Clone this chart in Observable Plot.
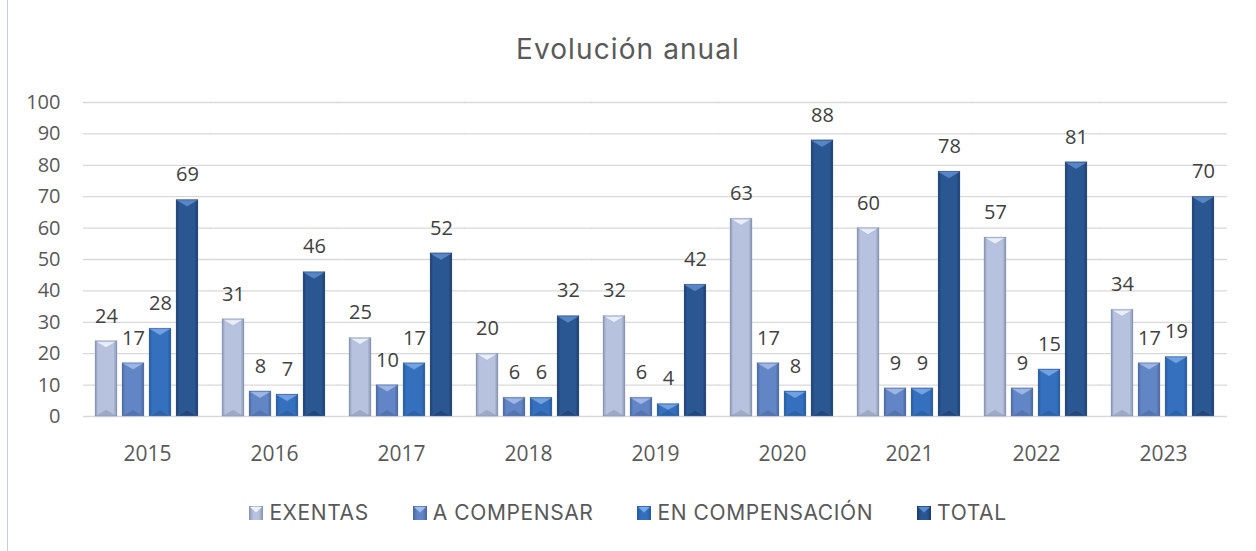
<!DOCTYPE html>
<html>
<head>
<meta charset="utf-8">
<script src="https://cdn.jsdelivr.net/npm/d3@7"></script>
<script src="https://cdn.jsdelivr.net/npm/@observablehq/plot@0.6"></script>
<style>
  html, body { margin: 0; padding: 0; background: #fff; }
  #wrap { position: relative; width: 1256px; height: 551px; overflow: hidden; }
  #frame { position: absolute; left: 7px; top: 0; width: 1px; height: 551px; background: #c3cde3; }
  #title { position: absolute; left: 0; top: 32px; width: 1256px; text-align: center;
    font-family: Inter, "Open Sans", sans-serif; font-size: 28px; letter-spacing: 1.1px; color: #595959; font-weight: 400; line-height: 34px; }
  #chart { position: absolute; left: 0; top: 80px; }
  #legend { position: absolute; left: 0; top: 500px; width: 1256px; display: flex; justify-content: center;
    font-family: Inter, "Open Sans", sans-serif; font-size: 21px; letter-spacing: 0.6px; color: #595959; gap: 44px; line-height: 26px; }
  .item { display: flex; align-items: center; gap: 6px; }
  .sw { width: 14px; height: 14px; display: inline-block; position: relative; }
</style>
</head>
<body>
<div id="wrap">
  <div id="frame"></div>
  <div id="title">Evolución anual</div>
  <div id="chart"></div>
  <div id="legend"></div>
</div>
<script>
const years = ["2015","2016","2017","2018","2019","2020","2021","2022","2023"];
const series = ["EXENTAS","A COMPENSAR","EN COMPENSACIÓN","TOTAL"];
const exentas =        [24, 31, 25, 20, 32, 63, 60, 57, 34];
const aCompensar =     [17,  8, 10,  6,  6, 17,  9,  9, 17];
const enCompensacion = [28,  7, 17,  6,  4,  8,  9, 15, 19];
const total =          [69, 46, 52, 32, 42, 88, 78, 81, 70];
const yTicks = [0,10,20,30,40,50,60,70,80,90,100];

// [edge, center, chevron] colours per series
const palette = [
  ["#8591ad", "#b6c2de", "#eef2fb"],
  ["#46649f", "#6285c6", "#a3bdeb"],
  ["#22589e", "#3470bd", "#76a9ea"],
  ["#1a3b6b", "#2a5692", "#5a8cd0"]
];

const valuesBySeries = [exentas, aCompensar, enCompensacion, total];
const data = [];
years.forEach((yr, i) => {
  series.forEach((s, j) => data.push({year: yr, series: s, value: valuesBySeries[j][i]}));
});

const plot = Plot.plot({
  width: 1256,
  height: 400,
  marginLeft: 83,
  marginRight: 28,
  marginTop: 22,
  marginBottom: 64,
  style: {fontFamily: "'Open Sans', 'Liberation Sans', sans-serif", fontSize: "20px", color: "#595959", background: "transparent"},
  fx: {domain: years, paddingInner: 0.165, paddingOuter: 0.08, label: null},
  x: {domain: series, paddingInner: 0.18, paddingOuter: 0, axis: null},
  y: {domain: [0, 100], ticks: yTicks, label: null},
  color: {domain: series, range: series.map((s, j) => `url(#grad${j})`)},
  marks: [
    Plot.ruleY(yTicks, {y: d => d, stroke: "#d9d9d9", strokeWidth: 1.3, insetLeft: -11, insetRight: -11}),
    Plot.axisY(yTicks, {tickSize: 0, tickPadding: 34, fontSize: 20, fill: "#595959", label: null}),
    Plot.axisFx({anchor: "bottom", tickSize: 0, tickPadding: 30, fontSize: 21, fill: "#595959", label: null}),
    Plot.barY(data, {fx: "year", x: "series", y: "value", fill: "series", stroke: "#7f8fae", strokeOpacity: 0.35, strokeWidth: 0.8}),
    Plot.text(data, {fx: "year", x: "series", y: "value", text: d => String(d.value), dy: -25, fontSize: 20, fill: "#404040"})
  ]
});

// gradients
const ns = "http://www.w3.org/2000/svg";
const defs = document.createElementNS(ns, "defs");
palette.forEach((c, j) => {
  const g = document.createElementNS(ns, "linearGradient");
  g.setAttribute("id", `grad${j}`);
  g.setAttribute("x1", "0"); g.setAttribute("x2", "1"); g.setAttribute("y1", "0"); g.setAttribute("y2", "0");
  [[0, c[0]], [0.14, c[1]], [0.5, c[1]], [0.84, c[1]], [1, c[0]]].forEach(([o, col]) => {
    const st = document.createElementNS(ns, "stop");
    st.setAttribute("offset", o); st.setAttribute("stop-color", col);
    g.appendChild(st);
  });
  defs.appendChild(g);
});
plot.insertBefore(defs, plot.firstChild);

// chevrons at the top of each bar, derived from the rendered bar rects
plot.querySelectorAll('g[aria-label="bar"]').forEach(g => {
  g.querySelectorAll("rect").forEach(r => {
    const fill = r.getAttribute("fill") || "";
    const m = fill.match(/grad(\d)/);
    if (!m) return;
    const j = +m[1];
    const x = +r.getAttribute("x"), y = +r.getAttribute("y"), w = +r.getAttribute("width"), h = +r.getAttribute("height");
    const tr = r.parentNode;
    const p = document.createElementNS(ns, "polygon");
    const ch = Math.min(7, h / 2);
    p.setAttribute("points", `${x+1},${y+1} ${x+w-1},${y+1} ${x+w/2},${y+ch}`);
    p.setAttribute("fill", palette[j][2]);
    p.setAttribute("opacity", "0.9");
    if (r.getAttribute("transform")) p.setAttribute("transform", r.getAttribute("transform"));
    tr.appendChild(p);
    const q = document.createElementNS(ns, "polygon");
    q.setAttribute("points", `${x+1},${y+h} ${x+w-1},${y+h} ${x+w/2},${y+h-Math.min(6, h/2)}`);
    q.setAttribute("fill", palette[j][0]);
    q.setAttribute("opacity", "0.5");
    if (r.getAttribute("transform")) q.setAttribute("transform", r.getAttribute("transform"));
    tr.appendChild(q);
  });
});

document.getElementById("chart").appendChild(plot);

// legend
const leg = document.getElementById("legend");
series.forEach((s, j) => {
  const it = document.createElement("div"); it.className = "item";
  const sw = document.createElement("span"); sw.className = "sw";
  sw.style.background = `linear-gradient(90deg, ${palette[j][0]}, ${palette[j][1]} 30%, ${palette[j][1]} 70%, ${palette[j][0]})`;
  sw.innerHTML = `<svg width="14" height="14" style="position:absolute;left:0;top:0"><polygon points="1,1 13,1 7,6.5" fill="${palette[j][2]}"/></svg>`;
  const tx = document.createElement("span"); tx.textContent = s;
  it.appendChild(sw); it.appendChild(tx); leg.appendChild(it);
});
</script>
</body>
</html>
